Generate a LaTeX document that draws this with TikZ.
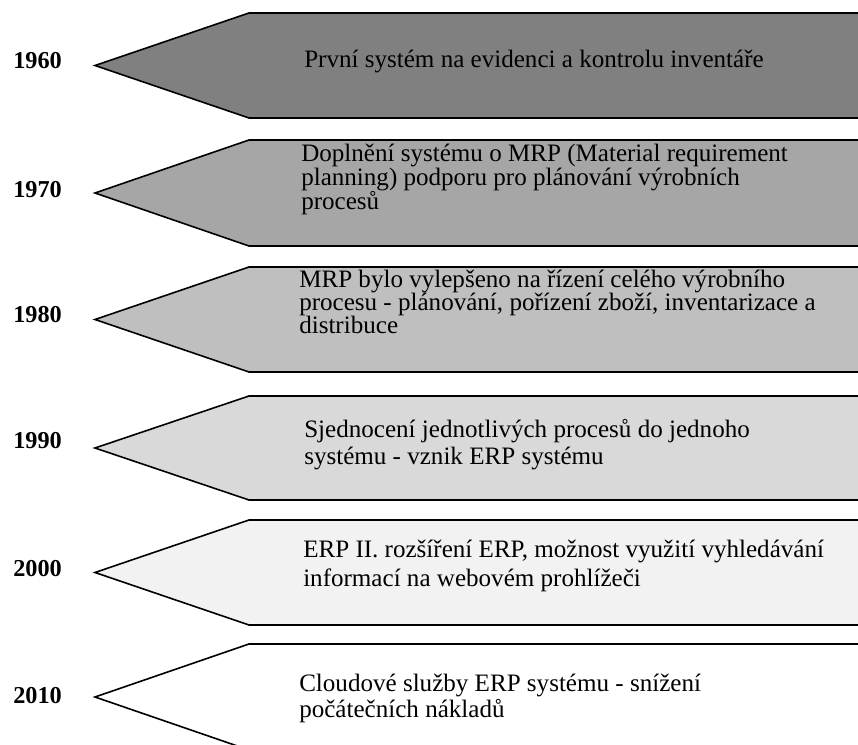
\documentclass[tikz,border=0pt]{standalone}
\usepackage{fontspec}
\setmainfont{Liberation Serif}
\definecolor{shade60}{HTML}{808080}
\definecolor{shade70}{HTML}{A6A6A6}
\definecolor{shade80}{HTML}{BFBFBF}
\definecolor{shade90}{HTML}{D9D9D9}
\definecolor{shade00}{HTML}{F2F2F2}
\definecolor{shade10}{HTML}{FFFFFF}
\tikzset{
  stage/.style={draw=black, line width=1.2pt, line join=miter},
  year/.style={anchor=base west, inner sep=0pt, font=\bfseries\fontsize{18.2}{20}\selectfont},
  desc/.style={anchor=base west, inner sep=0pt, align=left, font=\fontsize{18.8}{#1}\selectfont},
}

\begin{document}
\begin{tikzpicture}[x=0.75pt, y=-0.75pt]
      \useasboundingbox (0,0) rectangle (858,745);
      \clip (0,0) rectangle (858,745);
      % arrows, darkest first
      \draw[stage, fill=shade60] (880,13) -- (249,13) -- (95,65.5) -- (249,118) -- (880,118) -- cycle;
      \draw[stage, fill=shade70] (880,140) -- (249,140) -- (95,193) -- (249,246) -- (880,246) -- cycle;
      \draw[stage, fill=shade80] (880,267) -- (249,267) -- (95,319.5) -- (249,372) -- (880,372) -- cycle;
      \draw[stage, fill=shade90] (880,396) -- (249,396) -- (95,448) -- (249,500) -- (880,500) -- cycle;
      \draw[stage, fill=shade00] (880,520) -- (249,520) -- (95,572.5) -- (249,625) -- (880,625) -- cycle;
      \draw[stage, fill=shade10] (880,644) -- (249,644) -- (95,697) -- (249,750) -- (880,750) -- cycle;
      % years
      \node[year] (y1960) at (13,69) {1960};
      \node[year] (y1970) at (13,198) {1970};
      \node[year] (y1980) at (13,323) {1980};
      \node[year] (y1990) at (13,449) {1990};
      \node[year] (y2000) at (13,577) {2000};
      \node[year] (y2010) at (13,703) {2010};
      % descriptions (base = last line)
      \node[desc=17.6] (t1960) at (304,68) {První systém na evidenci a kontrolu inventáře};
      \node[desc=17.6] (t1970) at (301,210) {Doplnění systému o MRP (Material requirement\\planning) podporu pro plánování výrobních\\procesů};
      \node[desc=17.6] (t1980) at (299,334) {MRP bylo vylepšeno na řízení celého výrobního\\procesu - plánování, pořízení zboží, inventarizace a\\distribuce};
      \node[desc=20.4] (t1990) at (304,464.5) {Sjednocení jednotlivých procesů do jednoho\\systému - vznik ERP systému};
      \node[desc=21] (t2000) at (303,586) {ERP II. rozšíření ERP, možnost využití vyhledávání\\informací na webovém prohlížeči};
      \node[desc=19.2] (t2010) at (299,717.5) {Cloudové služby ERP systému - snížení\\počátečních nákladů};
\end{tikzpicture}
\end{document}
